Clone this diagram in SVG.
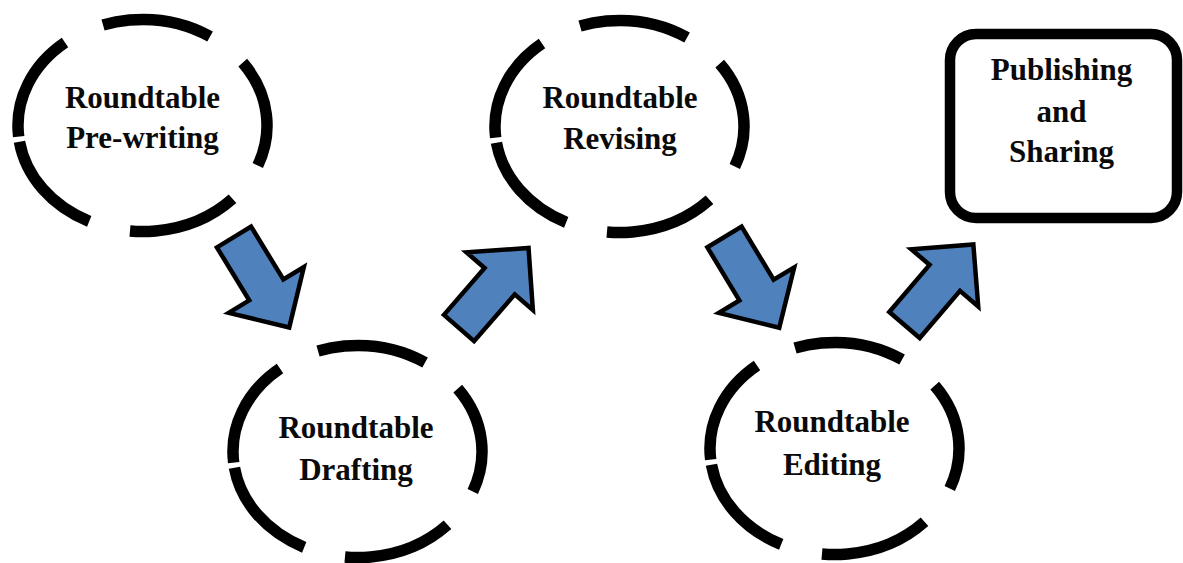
<svg xmlns="http://www.w3.org/2000/svg" xmlns:xlink="http://www.w3.org/1999/xlink" width="1183" height="563" viewBox="0 0 1183 563">
<style>
.ring{fill:none;stroke:#000;stroke-width:11.5;stroke-dasharray:110.3 42;stroke-linecap:butt}
.arrow{fill:#4F81BD;stroke:#000;stroke-width:4.5;stroke-linejoin:miter}
.box{fill:#fff;stroke:#000;stroke-width:10.5}
.lbl{font-family:"Liberation Serif","Times New Roman",serif;font-weight:bold;font-size:31px;fill:#0a0a0a;text-anchor:middle}
</style>
<defs>
<path id="ringShape" class="ring" d="M-123.82,11.08 A124.5,106 0 0 1 123.82,-11.08 A124.5,106 0 0 1 -123.82,11.08"/>
<path id="arrowShape" class="arrow" d="M0,-20 L62,-20 L62,-44 L106,0 L62,44 L62,20 L0,20 Z"/>
</defs>
<rect width="1183" height="563" fill="#fff"/>
<g id="connectors">
<use xlink:href="#arrowShape" transform="translate(234,237) rotate(58.6)"/>
<use xlink:href="#arrowShape" transform="translate(459,328) rotate(-49)"/>
<use xlink:href="#arrowShape" transform="translate(724.5,237) rotate(58.9)"/>
<use xlink:href="#arrowShape" transform="translate(904.5,325) rotate(-49.5)"/>
</g>
<g id="prewriting">
<use xlink:href="#ringShape" transform="translate(142.5,125.5)"/>
<text class="lbl" x="142.5" y="108">Roundtable</text>
<text class="lbl" x="142.5" y="148">Pre-writing</text>
</g>
<g id="drafting">
<use xlink:href="#ringShape" transform="translate(357.5,451.5)"/>
<text class="lbl" x="356" y="438">Roundtable</text>
<text class="lbl" x="356" y="480">Drafting</text>
</g>
<g id="revising">
<use xlink:href="#ringShape" transform="translate(619.5,126.5)"/>
<text class="lbl" x="620" y="107.5">Roundtable</text>
<text class="lbl" x="620" y="148.5">Revising</text>
</g>
<g id="editing">
<use xlink:href="#ringShape" transform="translate(834.5,448.5)"/>
<text class="lbl" x="832" y="432">Roundtable</text>
<text class="lbl" x="832" y="475">Editing</text>
</g>
<g id="publishing">
<rect class="box" x="950" y="34" width="227" height="184" rx="26" ry="26"/>
<text class="lbl" x="1061.5" y="80">Publishing</text>
<text class="lbl" x="1061.5" y="122">and</text>
<text class="lbl" x="1061.5" y="162">Sharing</text>
</g>
</svg>
